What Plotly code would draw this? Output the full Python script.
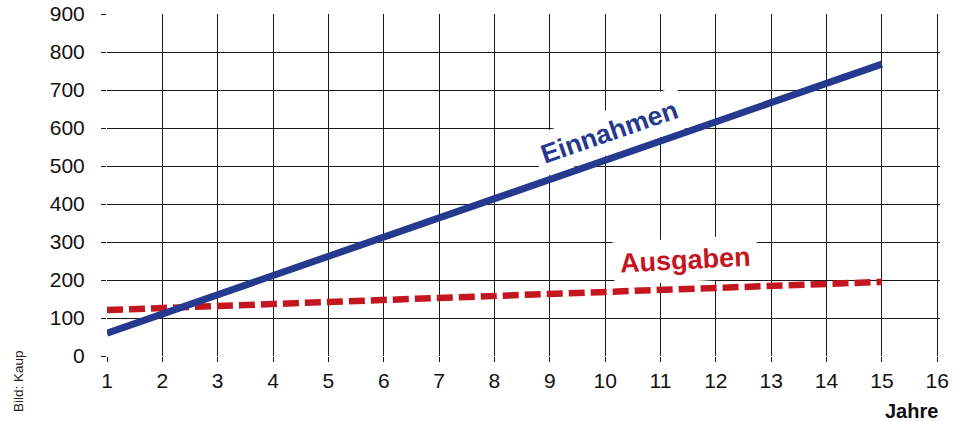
import plotly.graph_objects as go

# Jahre (x) and the two series, read at the start and end year
jahre = [1, 15]
einnahmen = [60, 768]
ausgaben = [121, 195]

x_ticks = list(range(1, 17))
y_ticks = list(range(0, 1000, 100))

blau = "#253a8f"
rot = "#c3161f"
font_main = "Liberation Sans, Arial, Helvetica, sans-serif"

fig = go.Figure()

fig.add_trace(go.Scatter(
    x=jahre, y=ausgaben, mode="lines",
    line=dict(color=rot, width=6.5, dash="16px,6px"),
    hoverinfo="skip", showlegend=False,
))
fig.add_trace(go.Scatter(
    x=jahre, y=einnahmen, mode="lines",
    line=dict(color=blau, width=7),
    hoverinfo="skip", showlegend=False,
))

# Page geometry in pixels
px_w, px_h = 965, 421
pl, pr, pt, pb = 107, 25, 14, 65
plot_w = px_w - pl - pr
plot_h = px_h - pt - pb


def paper_x(px):
    return (px - pl) / plot_w


def paper_y(py):
    return (px_h - pb - py) / plot_h


fig.update_layout(
    width=px_w, height=px_h,
    margin=dict(l=pl, r=pr, t=pt, b=pb, autoexpand=False),
    paper_bgcolor="white", plot_bgcolor="white",
    font=dict(family=font_main, color="#111", size=20),
    xaxis=dict(
        range=[1, 16.05], tickvals=x_ticks, ticktext=[str(v) for v in x_ticks],
        showgrid=True, gridcolor="#1a1a1a", gridwidth=1.3,
        zeroline=False, showline=False, automargin=False,
        ticks="outside", ticklen=5, tickcolor="#1a1a1a", tickwidth=1.3,
        tickfont=dict(size=21, family=font_main, color="#111"),
        ticklabelstandoff=1,
    ),
    yaxis=dict(
        range=[0, 900], tickvals=y_ticks, ticktext=[str(v) for v in y_ticks],
        showgrid=True, gridcolor="#1a1a1a", gridwidth=1.3,
        zeroline=False, showline=False, automargin=False,
        ticks="outside", ticklen=5, tickcolor="#1a1a1a", tickwidth=1.3,
        tickfont=dict(size=21, family=font_main, color="#111"),
        ticklabelstandoff=12,
    ),
    annotations=[
        dict(
            x=10.07, y=589, xref="x", yref="y", text="<b>Einnahmen</b>",
            showarrow=False, textangle=-19,
            font=dict(size=26.5, color=blau, family=font_main),
            bgcolor="white", borderpad=6,
        ),
        dict(
            x=11.46, y=253, xref="x", yref="y", text="<b>Ausgaben</b>",
            showarrow=False, textangle=-3,
            font=dict(size=27, color=rot, family=font_main),
            bgcolor="white", borderpad=6,
        ),
        dict(
            x=paper_x(940), y=paper_y(411), xref="paper", yref="paper",
            text="<b>Jahre</b>",
            showarrow=False, xanchor="right", yanchor="middle",
            font=dict(size=20, color="#111", family=font_main),
        ),
        dict(
            x=paper_x(18), y=paper_y(381), xref="paper", yref="paper",
            text="Bild: Kaup",
            showarrow=False, textangle=-90, xanchor="center", yanchor="middle",
            font=dict(size=13.5, color="#222",
                      family="Liberation Sans Narrow, Liberation Sans, Arial, sans-serif"),
        ),
    ],
)

fig.write_html("out.html")
